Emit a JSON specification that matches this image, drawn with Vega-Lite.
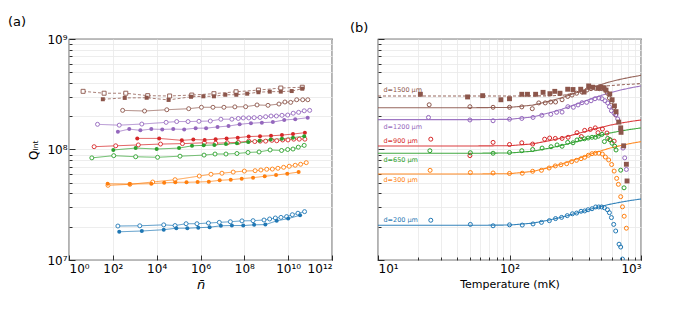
{
 "$schema": "https://vega.github.io/schema/vega-lite/v6.json",
 "background": "white",
 "padding": {"left": 7, "top": 15, "right": 5, "bottom": 5},
 "bounds": "flush",
 "spacing": 46,
 "resolve": {"scale": {"x": "independent", "y": "independent"}},
 "config": {
  "font": "DejaVu Sans",
  "view": {"stroke": "#000", "strokeWidth": 1.2},
  "axis": {"domain": false, "grid": true, "gridColor": "#e8e8e8", "gridWidth": 0.8, "tickColor": "#000", "tickWidth": 0.8, "labelColor": "#000", "labelFontSize": 12, "labelFont": "DejaVu Sans", "titleFont": "DejaVu Sans", "titleFontWeight": "normal", "titleColor": "#000"},
  "title": {"fontWeight": "normal", "fontSize": 13, "anchor": "start", "frame": "group", "color": "#000", "font": "DejaVu Sans"}
 },
 "datasets": {
  "left": [
   {"n":4.4,"Q":3.36e8,"d":1500,"set":"sq-open"},{"n":40,"Q":3.23e8,"d":1500,"set":"sq-open"},{"n":390,"Q":3.23e8,"d":1500,"set":"sq-open"},{"n":3900,"Q":3.07e8,"d":1500,"set":"sq-open"},{"n":3.9e4,"Q":3.05e8,"d":1500,"set":"sq-open"},{"n":4e5,"Q":3.11e8,"d":1500,"set":"sq-open"},{"n":4.1e6,"Q":3.2e8,"d":1500,"set":"sq-open"},{"n":4.2e7,"Q":3.33e8,"d":1500,"set":"sq-open"},{"n":4.4e8,"Q":3.45e8,"d":1500,"set":"sq-open"},{"n":4.6e9,"Q":3.6e8,"d":1500,"set":"sq-open"},{"n":4.4e10,"Q":3.66e8,"d":1500,"set":"sq-open"},
   {"n":35,"Q":2.85e8,"d":1500,"set":"sq-filled"},{"n":350,"Q":2.93e8,"d":1500,"set":"sq-filled"},{"n":3500,"Q":2.94e8,"d":1500,"set":"sq-filled"},{"n":3.5e4,"Q":2.81e8,"d":1500,"set":"sq-filled"},{"n":3.7e5,"Q":3.0e8,"d":1500,"set":"sq-filled"},{"n":1.35e6,"Q":3.03e8,"d":1500,"set":"sq-filled"},{"n":4.1e6,"Q":3.03e8,"d":1500,"set":"sq-filled"},{"n":1.35e7,"Q":3.13e8,"d":1500,"set":"sq-filled"},{"n":4.3e7,"Q":3.13e8,"d":1500,"set":"sq-filled"},{"n":1.35e8,"Q":3.2e8,"d":1500,"set":"sq-filled"},{"n":4.4e8,"Q":3.3e8,"d":1500,"set":"sq-filled"},{"n":1.45e9,"Q":3.34e8,"d":1500,"set":"sq-filled"},{"n":4.6e9,"Q":3.34e8,"d":1500,"set":"sq-filled"},{"n":1.45e10,"Q":3.38e8,"d":1500,"set":"sq-filled"},{"n":4.4e10,"Q":3.55e8,"d":1500,"set":"sq-filled"},
   {"n":280,"Q":2.26e8,"d":1500,"set":"open"},{"n":2800,"Q":2.23e8,"d":1500,"set":"open"},{"n":2.9e4,"Q":2.29e8,"d":1500,"set":"open"},{"n":2.9e5,"Q":2.34e8,"d":1500,"set":"open"},{"n":1.1e6,"Q":2.41e8,"d":1500,"set":"open"},{"n":3.7e6,"Q":2.41e8,"d":1500,"set":"open"},{"n":1.17e7,"Q":2.41e8,"d":1500,"set":"open"},{"n":3.7e7,"Q":2.43e8,"d":1500,"set":"open"},{"n":1.15e8,"Q":2.44e8,"d":1500,"set":"open"},{"n":3.8e8,"Q":2.53e8,"d":1500,"set":"open"},{"n":1.2e9,"Q":2.51e8,"d":1500,"set":"open"},{"n":3.8e9,"Q":2.58e8,"d":1500,"set":"open"},{"n":7.1e9,"Q":2.69e8,"d":1500,"set":"open"},{"n":1.3e10,"Q":2.67e8,"d":1500,"set":"open"},{"n":2.45e10,"Q":2.82e8,"d":1500,"set":"open"},{"n":4.6e10,"Q":2.82e8,"d":1500,"set":"open"},{"n":7.9e10,"Q":2.82e8,"d":1500,"set":"open"},
   {"n":20,"Q":1.69e8,"d":1200,"set":"open"},{"n":196,"Q":1.66e8,"d":1200,"set":"open"},{"n":2100,"Q":1.70e8,"d":1200,"set":"open"},{"n":2.7e4,"Q":1.76e8,"d":1200,"set":"open"},{"n":8.2e4,"Q":1.79e8,"d":1200,"set":"open"},{"n":2.7e5,"Q":1.79e8,"d":1200,"set":"open"},{"n":8.5e5,"Q":1.80e8,"d":1200,"set":"open"},{"n":2.8e6,"Q":1.81e8,"d":1200,"set":"open"},{"n":8.5e6,"Q":1.88e8,"d":1200,"set":"open"},{"n":2.7e7,"Q":1.88e8,"d":1200,"set":"open"},{"n":5.3e7,"Q":1.91e8,"d":1200,"set":"open"},{"n":8.9e7,"Q":1.93e8,"d":1200,"set":"open"},{"n":1.6e8,"Q":1.93e8,"d":1200,"set":"open"},{"n":2.8e8,"Q":1.94e8,"d":1200,"set":"open"},{"n":5.2e8,"Q":1.95e8,"d":1200,"set":"open"},{"n":9.4e8,"Q":1.98e8,"d":1200,"set":"open"},{"n":1.65e9,"Q":2.01e8,"d":1200,"set":"open"},{"n":2.9e9,"Q":2.01e8,"d":1200,"set":"open"},{"n":5.2e9,"Q":2.04e8,"d":1200,"set":"open"},{"n":9.5e9,"Q":2.05e8,"d":1200,"set":"open"},{"n":1.7e10,"Q":2.13e8,"d":1200,"set":"open"},{"n":3.0e10,"Q":2.17e8,"d":1200,"set":"open"},{"n":5.4e10,"Q":2.24e8,"d":1200,"set":"open"},{"n":9.6e10,"Q":2.26e8,"d":1200,"set":"open"},
   {"n":170,"Q":1.45e8,"d":1200,"set":"filled"},{"n":560,"Q":1.53e8,"d":1200,"set":"filled"},{"n":1800,"Q":1.49e8,"d":1200,"set":"filled"},{"n":5700,"Q":1.53e8,"d":1200,"set":"filled"},{"n":1.8e4,"Q":1.52e8,"d":1200,"set":"filled"},{"n":5.7e4,"Q":1.53e8,"d":1200,"set":"filled"},{"n":1.8e5,"Q":1.52e8,"d":1200,"set":"filled"},{"n":6.0e5,"Q":1.56e8,"d":1200,"set":"filled"},{"n":1.8e6,"Q":1.56e8,"d":1200,"set":"filled"},{"n":6.0e6,"Q":1.60e8,"d":1200,"set":"filled"},{"n":1.9e7,"Q":1.63e8,"d":1200,"set":"filled"},{"n":6.1e7,"Q":1.69e8,"d":1200,"set":"filled"},{"n":2.0e8,"Q":1.73e8,"d":1200,"set":"filled"},{"n":6.3e8,"Q":1.75e8,"d":1200,"set":"filled"},{"n":2.0e9,"Q":1.77e8,"d":1200,"set":"filled"},{"n":6.6e9,"Q":1.85e8,"d":1200,"set":"filled"},{"n":2.1e10,"Q":1.88e8,"d":1200,"set":"filled"},{"n":7.8e10,"Q":1.94e8,"d":1200,"set":"filled"},
   {"n":1300,"Q":1.26e8,"d":900,"set":"filled"},{"n":1.3e4,"Q":1.26e8,"d":900,"set":"filled"},{"n":1.4e5,"Q":1.21e8,"d":900,"set":"filled"},{"n":4.7e5,"Q":1.23e8,"d":900,"set":"filled"},{"n":1.55e6,"Q":1.22e8,"d":900,"set":"filled"},{"n":4.9e6,"Q":1.24e8,"d":900,"set":"filled"},{"n":1.55e7,"Q":1.26e8,"d":900,"set":"filled"},{"n":5.0e7,"Q":1.28e8,"d":900,"set":"filled"},{"n":1.58e8,"Q":1.31e8,"d":900,"set":"filled"},{"n":5.2e8,"Q":1.32e8,"d":900,"set":"filled"},{"n":1.65e9,"Q":1.33e8,"d":900,"set":"filled"},{"n":5.2e9,"Q":1.35e8,"d":900,"set":"filled"},{"n":1.66e10,"Q":1.38e8,"d":900,"set":"filled"},{"n":5.8e10,"Q":1.42e8,"d":900,"set":"filled"},
   {"n":14,"Q":1.06e8,"d":900,"set":"open"},{"n":135,"Q":1.08e8,"d":900,"set":"open"},{"n":1450,"Q":1.10e8,"d":900,"set":"open"},{"n":1.5e4,"Q":1.12e8,"d":900,"set":"open"},{"n":1.5e5,"Q":1.13e8,"d":900,"set":"open"},{"n":1.5e6,"Q":1.15e8,"d":900,"set":"open"},{"n":4.9e6,"Q":1.14e8,"d":900,"set":"open"},{"n":1.66e7,"Q":1.15e8,"d":900,"set":"open"},{"n":5.3e7,"Q":1.16e8,"d":900,"set":"open"},{"n":1.6e8,"Q":1.19e8,"d":900,"set":"open"},{"n":3.0e8,"Q":1.18e8,"d":900,"set":"open"},{"n":5.3e8,"Q":1.19e8,"d":900,"set":"open"},{"n":9.4e8,"Q":1.19e8,"d":900,"set":"open"},{"n":1.8e9,"Q":1.21e8,"d":900,"set":"open"},{"n":3.0e9,"Q":1.20e8,"d":900,"set":"open"},{"n":5.6e9,"Q":1.22e8,"d":900,"set":"open"},{"n":9.8e9,"Q":1.22e8,"d":900,"set":"open"},{"n":1.8e10,"Q":1.24e8,"d":900,"set":"open"},{"n":3.2e10,"Q":1.24e8,"d":900,"set":"open"},{"n":5.8e10,"Q":1.24e8,"d":900,"set":"open"},
   {"n":105,"Q":9.9e7,"d":650,"set":"filled"},{"n":1100,"Q":1.03e8,"d":650,"set":"filled"},{"n":1.0e4,"Q":1.01e8,"d":650,"set":"filled"},{"n":1.05e5,"Q":1.03e8,"d":650,"set":"filled"},{"n":4.1e5,"Q":1.08e8,"d":650,"set":"filled"},{"n":1.4e6,"Q":1.09e8,"d":650,"set":"filled"},{"n":4.3e6,"Q":1.10e8,"d":650,"set":"filled"},{"n":1.45e7,"Q":1.12e8,"d":650,"set":"filled"},{"n":4.6e7,"Q":1.14e8,"d":650,"set":"filled"},{"n":1.5e8,"Q":1.17e8,"d":650,"set":"filled"},{"n":5.0e8,"Q":1.20e8,"d":650,"set":"filled"},{"n":1.6e9,"Q":1.23e8,"d":650,"set":"filled"},{"n":5.2e9,"Q":1.25e8,"d":650,"set":"filled"},{"n":1.66e10,"Q":1.28e8,"d":650,"set":"filled"},{"n":5.4e10,"Q":1.32e8,"d":650,"set":"filled"},
   {"n":11,"Q":8.4e7,"d":650,"set":"open"},{"n":110,"Q":8.8e7,"d":650,"set":"open"},{"n":1100,"Q":8.6e7,"d":650,"set":"open"},{"n":1.1e4,"Q":8.5e7,"d":650,"set":"open"},{"n":1.16e5,"Q":8.7e7,"d":650,"set":"open"},{"n":1.45e6,"Q":8.9e7,"d":650,"set":"open"},{"n":4.6e6,"Q":9.1e7,"d":650,"set":"open"},{"n":1.45e7,"Q":9.1e7,"d":650,"set":"open"},{"n":4.6e7,"Q":9.2e7,"d":650,"set":"open"},{"n":1.47e8,"Q":9.4e7,"d":650,"set":"open"},{"n":4.7e8,"Q":9.5e7,"d":650,"set":"open"},{"n":1.5e9,"Q":9.9e7,"d":650,"set":"open"},{"n":5.0e9,"Q":9.8e7,"d":650,"set":"open"},{"n":9.5e9,"Q":1.0e8,"d":650,"set":"open"},{"n":1.66e10,"Q":1.01e8,"d":650,"set":"open"},{"n":2.9e10,"Q":1.05e8,"d":650,"set":"open"},{"n":5.4e10,"Q":1.09e8,"d":650,"set":"open"},
   {"n":60,"Q":4.74e7,"d":300,"set":"open"},{"n":600,"Q":4.84e7,"d":300,"set":"open"},{"n":6600,"Q":5.08e7,"d":300,"set":"open"},{"n":6.9e4,"Q":5.33e7,"d":300,"set":"open"},{"n":8.8e5,"Q":5.75e7,"d":300,"set":"open"},{"n":3.0e6,"Q":5.97e7,"d":300,"set":"open"},{"n":9.5e6,"Q":6.1e7,"d":300,"set":"open"},{"n":3.1e7,"Q":6.25e7,"d":300,"set":"open"},{"n":1.0e8,"Q":6.38e7,"d":300,"set":"open"},{"n":3.1e8,"Q":6.43e7,"d":300,"set":"open"},{"n":5.7e8,"Q":6.52e7,"d":300,"set":"open"},{"n":1.05e9,"Q":6.62e7,"d":300,"set":"open"},{"n":1.9e9,"Q":6.65e7,"d":300,"set":"open"},{"n":3.4e9,"Q":6.76e7,"d":300,"set":"open"},{"n":6.2e9,"Q":6.90e7,"d":300,"set":"open"},{"n":1.12e10,"Q":7.05e7,"d":300,"set":"open"},{"n":2.1e10,"Q":7.2e7,"d":300,"set":"open"},{"n":3.7e10,"Q":7.35e7,"d":300,"set":"open"},{"n":6.7e10,"Q":7.6e7,"d":300,"set":"open"},
   {"n":58,"Q":4.9e7,"d":300,"set":"filled"},{"n":590,"Q":4.87e7,"d":300,"set":"filled"},{"n":5700,"Q":4.9e7,"d":300,"set":"filled"},{"n":2.2e4,"Q":5.0e7,"d":300,"set":"filled"},{"n":7.1e4,"Q":5.05e7,"d":300,"set":"filled"},{"n":2.3e5,"Q":5.05e7,"d":300,"set":"filled"},{"n":7.4e5,"Q":5.08e7,"d":300,"set":"filled"},{"n":2.4e6,"Q":5.12e7,"d":300,"set":"filled"},{"n":7.5e6,"Q":5.26e7,"d":300,"set":"filled"},{"n":2.4e7,"Q":5.33e7,"d":300,"set":"filled"},{"n":7.6e7,"Q":5.45e7,"d":300,"set":"filled"},{"n":2.5e8,"Q":5.56e7,"d":300,"set":"filled"},{"n":8.5e8,"Q":5.72e7,"d":300,"set":"filled"},{"n":2.8e9,"Q":5.87e7,"d":300,"set":"filled"},{"n":9.1e9,"Q":6.04e7,"d":300,"set":"filled"},{"n":3.0e10,"Q":6.25e7,"d":300,"set":"filled"},
   {"n":170,"Q":2.03e7,"d":200,"set":"open"},{"n":1700,"Q":2.04e7,"d":200,"set":"open"},{"n":2.1e4,"Q":2.08e7,"d":200,"set":"open"},{"n":6.9e4,"Q":2.05e7,"d":200,"set":"open"},{"n":2.2e5,"Q":2.13e7,"d":200,"set":"open"},{"n":6.9e5,"Q":2.13e7,"d":200,"set":"open"},{"n":2.3e6,"Q":2.16e7,"d":200,"set":"open"},{"n":7.2e6,"Q":2.19e7,"d":200,"set":"open"},{"n":2.3e7,"Q":2.22e7,"d":200,"set":"open"},{"n":7.8e7,"Q":2.26e7,"d":200,"set":"open"},{"n":2.5e8,"Q":2.27e7,"d":200,"set":"open"},{"n":7.9e8,"Q":2.30e7,"d":200,"set":"open"},{"n":1.43e9,"Q":2.35e7,"d":200,"set":"open"},{"n":2.6e9,"Q":2.40e7,"d":200,"set":"open"},{"n":4.7e9,"Q":2.43e7,"d":200,"set":"open"},{"n":8.5e9,"Q":2.47e7,"d":200,"set":"open"},{"n":1.55e10,"Q":2.57e7,"d":200,"set":"open"},{"n":2.8e10,"Q":2.65e7,"d":200,"set":"open"},{"n":5.6e10,"Q":2.74e7,"d":200,"set":"open"},
   {"n":196,"Q":1.80e7,"d":200,"set":"filled"},{"n":2100,"Q":1.83e7,"d":200,"set":"filled"},{"n":2.1e4,"Q":1.88e7,"d":200,"set":"filled"},{"n":7.9e4,"Q":1.94e7,"d":200,"set":"filled"},{"n":2.5e5,"Q":1.94e7,"d":200,"set":"filled"},{"n":7.9e5,"Q":1.96e7,"d":200,"set":"filled"},{"n":2.6e6,"Q":1.98e7,"d":200,"set":"filled"},{"n":8.5e6,"Q":2.04e7,"d":200,"set":"filled"},{"n":2.7e7,"Q":2.05e7,"d":200,"set":"filled"},{"n":8.9e7,"Q":2.05e7,"d":200,"set":"filled"},{"n":2.8e8,"Q":2.08e7,"d":200,"set":"filled"},{"n":9.1e8,"Q":2.09e7,"d":200,"set":"filled"},{"n":3.0e9,"Q":2.26e7,"d":200,"set":"filled"},{"n":1.0e10,"Q":2.37e7,"d":200,"set":"filled"},{"n":3.5e10,"Q":2.54e7,"d":200,"set":"filled"}
  ],
  "right": [
   {"T":21,"Q":3.16e8,"d":1500,"set":"sq-filled"},{"T":48,"Q":2.99e8,"d":1500,"set":"sq-filled"},{"T":62.5,"Q":3.07e8,"d":1500,"set":"sq-filled"},{"T":86,"Q":2.82e8,"d":1500,"set":"sq-filled"},{"T":100,"Q":2.88e8,"d":1500,"set":"sq-filled"},{"T":124,"Q":3.16e8,"d":1500,"set":"sq-filled"},{"T":137,"Q":3.16e8,"d":1500,"set":"sq-filled"},{"T":158,"Q":3.16e8,"d":1500,"set":"sq-filled"},{"T":180,"Q":3.29e8,"d":1500,"set":"sq-filled"},{"T":203,"Q":3.2e8,"d":1500,"set":"sq-filled"},{"T":221,"Q":3.36e8,"d":1500,"set":"sq-filled"},{"T":242,"Q":3.23e8,"d":1500,"set":"sq-filled"},{"T":277,"Q":3.51e8,"d":1500,"set":"sq-filled"},{"T":304,"Q":3.49e8,"d":1500,"set":"sq-filled"},{"T":348,"Q":3.51e8,"d":1500,"set":"sq-filled"},{"T":369,"Q":3.31e8,"d":1500,"set":"sq-filled"},{"T":400,"Q":3.76e8,"d":1500,"set":"sq-filled"},{"T":429,"Q":3.66e8,"d":1500,"set":"sq-filled"},{"T":471,"Q":3.58e8,"d":1500,"set":"sq-filled"},{"T":494,"Q":3.68e8,"d":1500,"set":"sq-filled"},{"T":524,"Q":3.62e8,"d":1500,"set":"sq-filled"},{"T":542,"Q":3.45e8,"d":1500,"set":"sq-filled"},{"T":578,"Q":3.18e8,"d":1500,"set":"sq-filled"},{"T":603,"Q":2.82e8,"d":1500,"set":"sq-filled"},{"T":628,"Q":2.48e8,"d":1500,"set":"sq-filled"},{"T":646,"Q":2.2e8,"d":1500,"set":"sq-filled"},{"T":677,"Q":1.77e8,"d":1500,"set":"sq-filled"},{"T":701,"Q":1.57e8,"d":1500,"set":"sq-filled"},{"T":705,"Q":1.43e8,"d":1500,"set":"sq-filled"},{"T":738,"Q":1.08e8,"d":1500,"set":"sq-filled"},{"T":774,"Q":7.35e7,"d":1500,"set":"sq-filled"},{"T":783,"Q":5.19e7,"d":1500,"set":"sq-filled"},
   {"T":24.5,"Q":2.54e8,"d":1500,"set":"open"},{"T":50,"Q":2.44e8,"d":1500,"set":"open"},{"T":75,"Q":2.41e8,"d":1500,"set":"open"},{"T":100,"Q":2.41e8,"d":1500,"set":"open"},{"T":124,"Q":2.43e8,"d":1500,"set":"open"},{"T":149,"Q":2.34e8,"d":1500,"set":"open"},{"T":167,"Q":2.64e8,"d":1500,"set":"open"},{"T":187,"Q":2.64e8,"d":1500,"set":"open"},{"T":206,"Q":2.69e8,"d":1500,"set":"open"},{"T":224,"Q":2.69e8,"d":1500,"set":"open"},{"T":251,"Q":2.82e8,"d":1500,"set":"open"},{"T":277,"Q":3.02e8,"d":1500,"set":"open"},{"T":299,"Q":3.11e8,"d":1500,"set":"open"},{"T":324,"Q":3.23e8,"d":1500,"set":"open"},{"T":356,"Q":3.31e8,"d":1500,"set":"open"},{"T":388,"Q":3.45e8,"d":1500,"set":"open"},{"T":417,"Q":3.55e8,"d":1500,"set":"open"},{"T":450,"Q":3.58e8,"d":1500,"set":"open"},{"T":483,"Q":3.55e8,"d":1500,"set":"open"},{"T":508,"Q":3.55e8,"d":1500,"set":"open"},{"T":536,"Q":3.45e8,"d":1500,"set":"open"},{"T":556,"Q":3.23e8,"d":1500,"set":"open"},{"T":575,"Q":2.92e8,"d":1500,"set":"open"},{"T":596,"Q":2.71e8,"d":1500,"set":"open"},{"T":620,"Q":2.38e8,"d":1500,"set":"open"},{"T":642,"Q":2.05e8,"d":1500,"set":"open"},
   {"T":24.2,"Q":1.95e8,"d":1200,"set":"open"},{"T":50,"Q":1.85e8,"d":1200,"set":"open"},{"T":75,"Q":1.82e8,"d":1200,"set":"open"},{"T":100,"Q":1.88e8,"d":1200,"set":"open"},{"T":124,"Q":1.91e8,"d":1200,"set":"open"},{"T":151,"Q":1.95e8,"d":1200,"set":"open"},{"T":176,"Q":2.04e8,"d":1200,"set":"open"},{"T":206,"Q":2.08e8,"d":1200,"set":"open"},{"T":228,"Q":2.17e8,"d":1200,"set":"open"},{"T":251,"Q":2.18e8,"d":1200,"set":"open"},{"T":278,"Q":2.44e8,"d":1200,"set":"open"},{"T":306,"Q":2.41e8,"d":1200,"set":"open"},{"T":332,"Q":2.53e8,"d":1200,"set":"open"},{"T":356,"Q":2.65e8,"d":1200,"set":"open"},{"T":386,"Q":2.67e8,"d":1200,"set":"open"},{"T":417,"Q":2.76e8,"d":1200,"set":"open"},{"T":447,"Q":2.88e8,"d":1200,"set":"open"},{"T":479,"Q":2.92e8,"d":1200,"set":"open"},{"T":505,"Q":2.88e8,"d":1200,"set":"open"},{"T":532,"Q":2.76e8,"d":1200,"set":"open"},{"T":558,"Q":2.64e8,"d":1200,"set":"open"},{"T":575,"Q":2.44e8,"d":1200,"set":"open"},{"T":596,"Q":2.24e8,"d":1200,"set":"open"},{"T":624,"Q":2.13e8,"d":1200,"set":"open"},{"T":646,"Q":2.07e8,"d":1200,"set":"open"},{"T":665,"Q":1.89e8,"d":1200,"set":"open"},{"T":701,"Q":1.52e8,"d":1200,"set":"open"},{"T":730,"Q":1.03e8,"d":1200,"set":"open"},{"T":752,"Q":8.4e7,"d":1200,"set":"open"},{"T":774,"Q":6.6e7,"d":1200,"set":"open"},
   {"T":25.2,"Q":1.24e8,"d":900,"set":"open"},{"T":50,"Q":8.8e7,"d":900,"set":"open"},{"T":75,"Q":1.16e8,"d":900,"set":"open"},{"T":100,"Q":1.11e8,"d":900,"set":"open"},{"T":124,"Q":1.15e8,"d":900,"set":"open"},{"T":150,"Q":1.12e8,"d":900,"set":"open"},{"T":185,"Q":1.24e8,"d":900,"set":"open"},{"T":202,"Q":1.27e8,"d":900,"set":"open"},{"T":223,"Q":1.26e8,"d":900,"set":"open"},{"T":251,"Q":1.26e8,"d":900,"set":"open"},{"T":279,"Q":1.29e8,"d":900,"set":"open"},{"T":326,"Q":1.42e8,"d":900,"set":"open"},{"T":352,"Q":1.31e8,"d":900,"set":"open"},{"T":373,"Q":1.49e8,"d":900,"set":"open"},{"T":412,"Q":1.52e8,"d":900,"set":"open"},{"T":449,"Q":1.57e8,"d":900,"set":"open"},{"T":471,"Q":1.42e8,"d":900,"set":"open"},{"T":509,"Q":1.53e8,"d":900,"set":"open"},{"T":551,"Q":1.41e8,"d":900,"set":"open"},{"T":578,"Q":1.23e8,"d":900,"set":"open"},{"T":625,"Q":1.19e8,"d":900,"set":"open"},
   {"T":24.8,"Q":9.75e7,"d":650,"set":"open"},{"T":50.4,"Q":9.35e7,"d":650,"set":"open"},{"T":75,"Q":9.25e7,"d":650,"set":"open"},{"T":100,"Q":9.4e7,"d":650,"set":"open"},{"T":124,"Q":9.75e7,"d":650,"set":"open"},{"T":150,"Q":1.0e8,"d":650,"set":"open"},{"T":177,"Q":1.03e8,"d":650,"set":"open"},{"T":207,"Q":1.06e8,"d":650,"set":"open"},{"T":230,"Q":1.10e8,"d":650,"set":"open"},{"T":251,"Q":1.07e8,"d":650,"set":"open"},{"T":277,"Q":1.16e8,"d":650,"set":"open"},{"T":304,"Q":1.15e8,"d":650,"set":"open"},{"T":326,"Q":1.22e8,"d":650,"set":"open"},{"T":346,"Q":1.24e8,"d":650,"set":"open"},{"T":371,"Q":1.25e8,"d":650,"set":"open"},{"T":396,"Q":1.27e8,"d":650,"set":"open"},{"T":424,"Q":1.29e8,"d":650,"set":"open"},{"T":450,"Q":1.29e8,"d":650,"set":"open"},{"T":474,"Q":1.32e8,"d":650,"set":"open"},{"T":505,"Q":1.37e8,"d":650,"set":"open"},{"T":527,"Q":1.18e8,"d":650,"set":"open"},{"T":558,"Q":1.26e8,"d":650,"set":"open"},{"T":585,"Q":1.22e8,"d":650,"set":"open"},{"T":602,"Q":1.14e8,"d":650,"set":"open"},{"T":631,"Q":1.07e8,"d":650,"set":"open"},{"T":646,"Q":9.9e7,"d":650,"set":"open"},{"T":701,"Q":6.5e7,"d":650,"set":"open"},{"T":743,"Q":4.5e7,"d":650,"set":"open"},
   {"T":24.9,"Q":6.48e7,"d":300,"set":"open"},{"T":50.4,"Q":6.19e7,"d":300,"set":"open"},{"T":75,"Q":6.13e7,"d":300,"set":"open"},{"T":100,"Q":6.07e7,"d":300,"set":"open"},{"T":125,"Q":6.1e7,"d":300,"set":"open"},{"T":150,"Q":6.35e7,"d":300,"set":"open"},{"T":175,"Q":6.48e7,"d":300,"set":"open"},{"T":200,"Q":6.8e7,"d":300,"set":"open"},{"T":223,"Q":7.1e7,"d":300,"set":"open"},{"T":246,"Q":7.28e7,"d":300,"set":"open"},{"T":272,"Q":7.44e7,"d":300,"set":"open"},{"T":297,"Q":7.76e7,"d":300,"set":"open"},{"T":323,"Q":7.98e7,"d":300,"set":"open"},{"T":350,"Q":8.26e7,"d":300,"set":"open"},{"T":373,"Q":8.5e7,"d":300,"set":"open"},{"T":398,"Q":8.87e7,"d":300,"set":"open"},{"T":424,"Q":9.16e7,"d":300,"set":"open"},{"T":450,"Q":9.25e7,"d":300,"set":"open"},{"T":477,"Q":9.25e7,"d":300,"set":"open"},{"T":508,"Q":9.1e7,"d":300,"set":"open"},{"T":536,"Q":8.55e7,"d":300,"set":"open"},{"T":568,"Q":8.04e7,"d":300,"set":"open"},{"T":598,"Q":7.31e7,"d":300,"set":"open"},{"T":625,"Q":6.38e7,"d":300,"set":"open"},{"T":653,"Q":5.48e7,"d":300,"set":"open"},{"T":673,"Q":4.84e7,"d":300,"set":"open"},{"T":701,"Q":3.74e7,"d":300,"set":"open"},{"T":723,"Q":3.03e7,"d":300,"set":"open"},{"T":745,"Q":2.49e7,"d":300,"set":"open"},{"T":774,"Q":1.94e7,"d":300,"set":"open"},
   {"T":25.2,"Q":2.29e7,"d":200,"set":"open"},{"T":50.4,"Q":2.10e7,"d":200,"set":"open"},{"T":75,"Q":2.04e7,"d":200,"set":"open"},{"T":100,"Q":2.08e7,"d":200,"set":"open"},{"T":125,"Q":2.07e7,"d":200,"set":"open"},{"T":151,"Q":2.12e7,"d":200,"set":"open"},{"T":175,"Q":2.19e7,"d":200,"set":"open"},{"T":201,"Q":2.27e7,"d":200,"set":"open"},{"T":224,"Q":2.37e7,"d":200,"set":"open"},{"T":249,"Q":2.43e7,"d":200,"set":"open"},{"T":275,"Q":2.52e7,"d":200,"set":"open"},{"T":301,"Q":2.62e7,"d":200,"set":"open"},{"T":324,"Q":2.66e7,"d":200,"set":"open"},{"T":350,"Q":2.76e7,"d":200,"set":"open"},{"T":373,"Q":2.78e7,"d":200,"set":"open"},{"T":396,"Q":2.85e7,"d":200,"set":"open"},{"T":424,"Q":2.91e7,"d":200,"set":"open"},{"T":452,"Q":3.02e7,"d":200,"set":"open"},{"T":477,"Q":3.02e7,"d":200,"set":"open"},{"T":502,"Q":3.02e7,"d":200,"set":"open"},{"T":527,"Q":2.97e7,"d":200,"set":"open"},{"T":556,"Q":2.85e7,"d":200,"set":"open"},{"T":575,"Q":2.68e7,"d":200,"set":"open"},{"T":596,"Q":2.42e7,"d":200,"set":"open"},{"T":620,"Q":2.10e7,"d":200,"set":"open"},{"T":642,"Q":1.83e7,"d":200,"set":"open"},{"T":681,"Q":1.39e7,"d":200,"set":"open"},{"T":701,"Q":1.31e7,"d":200,"set":"open"},{"T":723,"Q":1.02e7,"d":200,"set":"open"}
  ],
  "fits": [
   {"T":10,"Q":2.061e7,"d":200,"set":"open"},{"T":50,"Q":2.061e7,"d":200,"set":"open"},{"T":100,"Q":2.072e7,"d":200,"set":"open"},{"T":150,"Q":2.153e7,"d":200,"set":"open"},{"T":200,"Q":2.299e7,"d":200,"set":"open"},{"T":250,"Q":2.442e7,"d":200,"set":"open"},{"T":300,"Q":2.594e7,"d":200,"set":"open"},{"T":350,"Q":2.725e7,"d":200,"set":"open"},{"T":424,"Q":2.911e7,"d":200,"set":"open"},{"T":500,"Q":3.058e7,"d":200,"set":"open"},{"T":568,"Q":3.177e7,"d":200,"set":"open"},{"T":700,"Q":3.337e7,"d":200,"set":"open"},{"T":850,"Q":3.468e7,"d":200,"set":"open"},{"T":1000,"Q":3.565e7,"d":200,"set":"open"},
   {"T":10,"Q":5.998e7,"d":300,"set":"open"},{"T":50,"Q":5.998e7,"d":300,"set":"open"},{"T":100,"Q":6.04e7,"d":300,"set":"open"},{"T":150,"Q":6.33e7,"d":300,"set":"open"},{"T":200,"Q":6.866e7,"d":300,"set":"open"},{"T":250,"Q":7.393e7,"d":300,"set":"open"},{"T":300,"Q":7.96e7,"d":300,"set":"open"},{"T":350,"Q":8.46e7,"d":300,"set":"open"},{"T":424,"Q":9.175e7,"d":300,"set":"open"},{"T":500,"Q":9.75e7,"d":300,"set":"open"},{"T":568,"Q":1.022e8,"d":300,"set":"open"},{"T":700,"Q":1.086e8,"d":300,"set":"open"},{"T":850,"Q":1.139e8,"d":300,"set":"open"},{"T":1000,"Q":1.178e8,"d":300,"set":"open"},
   {"T":10,"Q":9.247e7,"d":650,"set":"open"},{"T":50,"Q":9.247e7,"d":650,"set":"open"},{"T":100,"Q":9.297e7,"d":650,"set":"open"},{"T":150,"Q":9.645e7,"d":650,"set":"open"},{"T":200,"Q":1.028e8,"d":650,"set":"open"},{"T":250,"Q":1.089e8,"d":650,"set":"open"},{"T":300,"Q":1.154e8,"d":650,"set":"open"},{"T":350,"Q":1.21e8,"d":650,"set":"open"},{"T":424,"Q":1.289e8,"d":650,"set":"open"},{"T":500,"Q":1.352e8,"d":650,"set":"open"},{"T":568,"Q":1.403e8,"d":650,"set":"open"},{"T":700,"Q":1.471e8,"d":650,"set":"open"},{"T":850,"Q":1.526e8,"d":650,"set":"open"},{"T":1000,"Q":1.567e8,"d":650,"set":"open"},
   {"T":10,"Q":1.076e8,"d":900,"set":"open"},{"T":50,"Q":1.076e8,"d":900,"set":"open"},{"T":100,"Q":1.082e8,"d":900,"set":"open"},{"T":150,"Q":1.124e8,"d":900,"set":"open"},{"T":200,"Q":1.2e8,"d":900,"set":"open"},{"T":250,"Q":1.273e8,"d":900,"set":"open"},{"T":300,"Q":1.351e8,"d":900,"set":"open"},{"T":350,"Q":1.419e8,"d":900,"set":"open"},{"T":424,"Q":1.514e8,"d":900,"set":"open"},{"T":500,"Q":1.589e8,"d":900,"set":"open"},{"T":568,"Q":1.651e8,"d":900,"set":"open"},{"T":700,"Q":1.733e8,"d":900,"set":"open"},{"T":850,"Q":1.8e8,"d":900,"set":"open"},{"T":1000,"Q":1.849e8,"d":900,"set":"open"},
   {"T":10,"Q":1.862e8,"d":1200,"set":"open"},{"T":50,"Q":1.862e8,"d":1200,"set":"open"},{"T":100,"Q":1.875e8,"d":1200,"set":"open"},{"T":150,"Q":1.970e8,"d":1200,"set":"open"},{"T":200,"Q":2.143e8,"d":1200,"set":"open"},{"T":250,"Q":2.315e8,"d":1200,"set":"open"},{"T":300,"Q":2.501e8,"d":1200,"set":"open"},{"T":350,"Q":2.665e8,"d":1200,"set":"open"},{"T":424,"Q":2.899e8,"d":1200,"set":"open"},{"T":500,"Q":3.088e8,"d":1200,"set":"open"},{"T":568,"Q":3.243e8,"d":1200,"set":"open"},{"T":700,"Q":3.454e8,"d":1200,"set":"open"},{"T":850,"Q":3.63e8,"d":1200,"set":"open"},{"T":1000,"Q":3.758e8,"d":1200,"set":"open"},
   {"T":10,"Q":2.388e8,"d":1500,"set":"open"},{"T":50,"Q":2.388e8,"d":1500,"set":"open"},{"T":100,"Q":2.404e8,"d":1500,"set":"open"},{"T":150,"Q":2.52e8,"d":1500,"set":"open"},{"T":200,"Q":2.734e8,"d":1500,"set":"open"},{"T":250,"Q":2.943e8,"d":1500,"set":"open"},{"T":300,"Q":3.17e8,"d":1500,"set":"open"},{"T":350,"Q":3.368e8,"d":1500,"set":"open"},{"T":424,"Q":3.653e8,"d":1500,"set":"open"},{"T":500,"Q":3.882e8,"d":1500,"set":"open"},{"T":568,"Q":4.07e8,"d":1500,"set":"open"},{"T":700,"Q":4.323e8,"d":1500,"set":"open"},{"T":850,"Q":4.533e8,"d":1500,"set":"open"},{"T":1000,"Q":4.688e8,"d":1500,"set":"open"},
   {"T":10,"Q":3.048e8,"d":1500,"set":"sq-filled"},{"T":50,"Q":3.048e8,"d":1500,"set":"sq-filled"},{"T":100,"Q":3.05e8,"d":1500,"set":"sq-filled"},{"T":150,"Q":3.055e8,"d":1500,"set":"sq-filled"},{"T":200,"Q":3.06e8,"d":1500,"set":"sq-filled"},{"T":250,"Q":3.09e8,"d":1500,"set":"sq-filled"},{"T":300,"Q":3.2e8,"d":1500,"set":"sq-filled"},{"T":350,"Q":3.35e8,"d":1500,"set":"sq-filled"},{"T":424,"Q":3.59e8,"d":1500,"set":"sq-filled"},{"T":500,"Q":3.72e8,"d":1500,"set":"sq-filled"},{"T":568,"Q":3.78e8,"d":1500,"set":"sq-filled"},{"T":700,"Q":3.85e8,"d":1500,"set":"sq-filled"},{"T":850,"Q":3.9e8,"d":1500,"set":"sq-filled"},{"T":1000,"Q":3.95e8,"d":1500,"set":"sq-filled"}
  ],
  "labels": [
   {"T":11,"Q":3.45e8,"d":1500,"label":"d=1500 µm"},
   {"T":11,"Q":1.61e8,"d":1200,"label":"d=1200 µm"},
   {"T":11,"Q":1.2e8,"d":900,"label":"d=900 µm"},
   {"T":11,"Q":8.04e7,"d":650,"label":"d=650 µm"},
   {"T":11,"Q":5.33e7,"d":300,"label":"d=300 µm"},
   {"T":11,"Q":2.32e7,"d":200,"label":"d=200 µm"}
  ]
 },
 "hconcat": [
  {
   "width": 263, "height": 221,
   "title": {"text": "(a)", "dx": -61, "offset": 4},
   "layer": [
    {"data": {"name": "left"}, "mark": {"type": "line", "strokeWidth": 1, "opacity": 0.75, "clip": true},
     "encoding": {
      "x": {"field": "n", "type": "quantitative", "scale": {"type": "log", "domain": [1, 1e12]},
        "axis": {"values": [1, 100, 10000, 1000000, 100000000, 10000000000, 1000000000000], "tickSize": -5, "labelPadding": 8, "title": "n\u0304", "titleFontStyle": "italic", "titleFontSize": 13, "titlePadding": 4,
          "labelExpr": "'10' + replace(replace(replace(replace(replace(replace(replace(replace(replace(replace(format(round(log(datum.value)/LN10),'d'),'0','⁰'),'1','¹'),'2','²'),'3','³'),'4','⁴'),'5','⁵'),'6','⁶'),'7','⁷'),'8','⁸'),'9','⁹')"}},
      "y": {"field": "Q", "type": "quantitative", "scale": {"type": "log", "domain": [1e7, 1e9]},
        "axis": {"values": [10000000,20000000,30000000,40000000,50000000,60000000,70000000,80000000,90000000,100000000,200000000,300000000,400000000,500000000,600000000,700000000,800000000,900000000,1000000000],
          "tickSize": {"condition": {"test": "indexof([10000000,100000000,1000000000], datum.value) >= 0", "value": -6}, "value": -3},
          "labelPadding": 8, "title": "Qᵢₙₜ", "titleFontSize": 12, "titlePadding": 6,
          "labelExpr": "indexof([10000000,100000000,1000000000], datum.value) >= 0 ? '10' + replace(replace(replace(format(round(log(datum.value)/LN10),'d'),'7','⁷'),'8','⁸'),'9','⁹') : ''"}},
      "color": {"field": "d", "type": "nominal", "scale": {"domain": [200, 300, 650, 900, 1200, 1500], "range": ["#1f77b4", "#ff7f0e", "#2ca02c", "#d62728", "#9467bd", "#8c564b"]}, "legend": null},
      "detail": {"field": "set"},
      "strokeDash": {"field": "set", "type": "nominal", "scale": {"domain": ["open", "filled", "sq-open", "sq-filled"], "range": [[1, 0], [1, 0], [3, 2], [3, 2]]}, "legend": null}
     }},
    {"data": {"name": "left"}, "transform": [{"filter": "datum.set == 'open' || datum.set == 'sq-open'"}],
     "mark": {"type": "point", "filled": false, "fill": "white", "fillOpacity": 1, "strokeWidth": 0.9, "opacity": 1},
     "encoding": {
      "x": {"field": "n", "type": "quantitative"},
      "y": {"field": "Q", "type": "quantitative"},
      "color": {"field": "d", "type": "nominal", "legend": null},
      "shape": {"field": "set", "type": "nominal", "scale": {"domain": ["open", "filled", "sq-open", "sq-filled"], "range": ["circle", "circle", "square", "square"]}, "legend": null},
      "size": {"field": "set", "type": "nominal", "scale": {"domain": ["open", "filled", "sq-open", "sq-filled"], "range": [16, 16, 20, 22]}, "legend": null}
     }},
    {"data": {"name": "left"}, "transform": [{"filter": "datum.set == 'filled' || datum.set == 'sq-filled'"}],
     "mark": {"type": "point", "filled": true, "opacity": 1},
     "encoding": {
      "x": {"field": "n", "type": "quantitative"},
      "y": {"field": "Q", "type": "quantitative"},
      "color": {"field": "d", "type": "nominal", "legend": null},
      "shape": {"field": "set", "type": "nominal", "legend": null},
      "size": {"field": "set", "type": "nominal", "legend": null}
     }}
   ]
  },
  {
   "width": 263, "height": 221,
   "title": {"text": "(b)", "dx": -28, "offset": 4},
   "layer": [
    {"data": {"name": "fits"}, "mark": {"type": "line", "strokeWidth": 1.1, "opacity": 0.9, "clip": true},
     "encoding": {
      "x": {"field": "T", "type": "quantitative", "scale": {"type": "log", "domain": [10, 1000]},
        "axis": {"values": [10,20,30,40,50,60,70,80,90,100,200,300,400,500,600,700,800,900,1000],
          "tickSize": {"condition": {"test": "indexof([10,100,1000], datum.value) >= 0", "value": -5}, "value": -3},
          "labelPadding": 8, "title": "Temperature (mK)", "titleFontSize": 11, "titlePadding": 4,
          "labelExpr": "indexof([10,100,1000], datum.value) >= 0 ? '10' + replace(replace(replace(format(round(log(datum.value)/LN10),'d'),'1','¹'),'2','²'),'3','³') : ''"}},
      "y": {"field": "Q", "type": "quantitative", "scale": {"type": "log", "domain": [1e7, 1e9]},
        "axis": {"values": [10000000,20000000,30000000,40000000,50000000,60000000,70000000,80000000,90000000,100000000,200000000,300000000,400000000,500000000,600000000,700000000,800000000,900000000,1000000000],
          "tickSize": {"condition": {"test": "indexof([10000000,100000000,1000000000], datum.value) >= 0", "value": -6}, "value": -3},
          "labels": false, "title": null}},
      "color": {"field": "d", "type": "nominal", "legend": null},
      "detail": {"field": "set"},
      "strokeDash": {"field": "set", "type": "nominal", "scale": {"domain": ["open", "sq-filled"], "range": [[1, 0], [3, 2]]}, "legend": null}
     }},
    {"data": {"name": "right"}, "transform": [{"filter": "datum.set == 'open'"}],
     "mark": {"type": "point", "shape": "circle", "filled": false, "fill": "white", "fillOpacity": 0, "size": 16, "strokeWidth": 1, "opacity": 1, "clip": true},
     "encoding": {
      "x": {"field": "T", "type": "quantitative"},
      "y": {"field": "Q", "type": "quantitative"},
      "color": {"field": "d", "type": "nominal", "legend": null}
     }},
    {"data": {"name": "right"}, "transform": [{"filter": "datum.set == 'sq-filled'"}],
     "mark": {"type": "point", "shape": "square", "filled": true, "size": 24, "opacity": 1, "clip": true},
     "encoding": {
      "x": {"field": "T", "type": "quantitative"},
      "y": {"field": "Q", "type": "quantitative"},
      "color": {"field": "d", "type": "nominal", "legend": null}
     }},
    {"data": {"name": "labels"},
     "mark": {"type": "text", "align": "left", "baseline": "middle", "fontSize": 6.5, "font": "DejaVu Sans"},
     "encoding": {
      "x": {"field": "T", "type": "quantitative"},
      "y": {"field": "Q", "type": "quantitative"},
      "text": {"field": "label"},
      "color": {"field": "d", "type": "nominal", "legend": null}
     }}
   ]
  }
 ]
}
